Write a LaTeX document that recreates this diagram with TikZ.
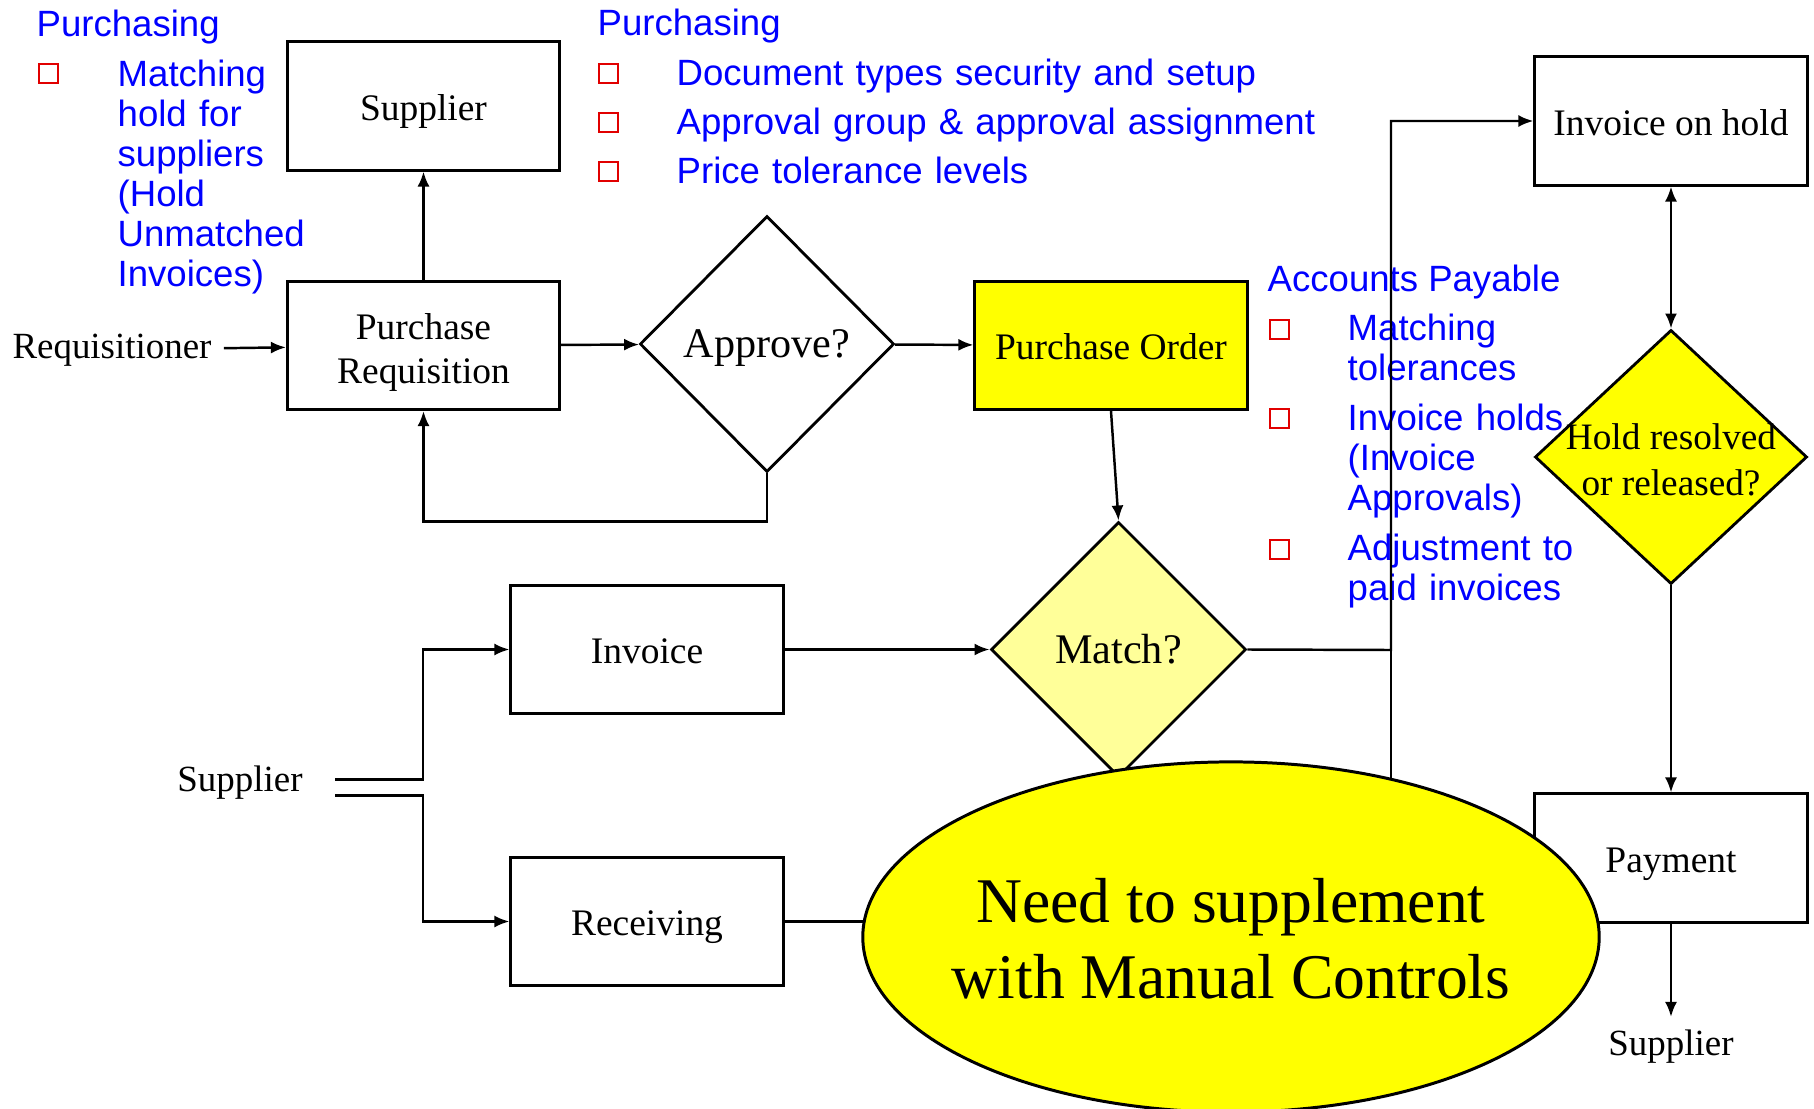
\documentclass[tikz,border=0pt]{standalone}
\usepackage{fontspec}
\setmainfont{Liberation Serif}
\newfontfamily\listfont{Liberation Sans}
\usepackage{tikz}
\usetikzlibrary{positioning,shapes.geometric,arrows.meta}

\definecolor{listblue}{RGB}{0,0,255}
\definecolor{bulletred}{RGB}{225,0,0}
\definecolor{brightyellow}{RGB}{255,255,0}
\definecolor{paleyellow}{RGB}{255,255,153}

\tikzset{
    box/.style={draw, line width=0.85pt, minimum width=2.72cm, minimum height=1.28cm, inner sep=0pt,
        text height=3mm, text depth=0.2mm, font=\fontsize{10.65}{12.5}\selectfont, align=center},
    decision/.style={draw, shape=diamond, line width=0.8pt, inner sep=0pt,
        text height=2.9mm, text depth=0.2mm, font=\fontsize{12}{14}\selectfont},
    plain/.style={font=\fontsize{10.5}{12.5}\selectfont},
    arrow/.style={-{Latex[length=1.5mm,width=1.2mm]}, line width=0.7pt},
    listhead/.style={anchor=base west, inner sep=0pt, text=listblue, font=\listfont\fontsize{10.4}{11.4}\selectfont},
    listitem/.style={listhead, text width=7cm, align=left},
    bullet/.style={draw=bulletred, line width=0.7pt, minimum size=1.9mm, inner sep=0pt, anchor=south west}
}

\begin{document}
\begin{tikzpicture}[x=0.01cm, y=-0.01cm]
    \useasboundingbox (0,0) rectangle (1814,1109);

    % Notes
    \node[listhead] (purchLeft) at (36,36) {Purchasing};
    \node[bullet] (bulletL1) at (38,84) {};
    \node[listitem] (itemL1) at (117,86) {Matching\\hold for\\suppliers\\(Hold\\Unmatched\\Invoices)};

    \node[listhead] (purchTop) at (597,35) {Purchasing};
    \node[bullet] (bulletT1) at (598,84) {};
    \node[listitem] (itemT1) at (676,85) {Document types security and setup};
    \node[bullet] (bulletT2) at (598,133) {};
    \node[listitem] (itemT2) at (676,134) {Approval group \& approval assignment};
    \node[bullet] (bulletT3) at (598,182) {};
    \node[listitem] (itemT3) at (676,183) {Price tolerance levels};

    \node[listhead] (payables) at (1267,291) {Accounts Payable};
    \node[bullet] (bulletP1) at (1269,340) {};
    \node[listitem] (itemP1) at (1347,340.5) {Matching\\tolerances};
    \node[bullet] (bulletP2) at (1269,429) {};
    \node[listitem] (itemP2) at (1347,430) {Invoice holds\\(Invoice\\Approvals)};
    \node[bullet] (bulletP3) at (1269,560) {};
    \node[listitem] (itemP3) at (1347,560.5) {Adjustment to\\paid invoices};

    % Nodes
    \node[box] (supplier) at (423.5,106) {Supplier};
    \node[box, text width=2.6cm, text depth=4.2mm] (preq) at (423.5,345.5) {Purchase\\Requisition};
    \node[plain, anchor=base] (requisitioner) at (112,358) {Requisitioner};
    \node[decision, minimum width=2.54cm, minimum height=2.56cm] (approve) at (767,344) {Approve?};
    \node[box, fill=brightyellow] (porder) at (1111,345.5) {Purchase Order};
    \node[decision, fill=paleyellow, minimum width=2.55cm, minimum height=2.55cm] (match) at (1118.5,649.5) {Match?};
    \node[box] (invoice) at (647,649.5) {Invoice};
    \node[box] (receiving) at (647,921.5) {Receiving};
    \node[plain, anchor=base] (supplierIn) at (240,791) {Supplier};
    \node[box] (onhold) at (1671,121) {Invoice on hold};
    \node[decision, fill=brightyellow, minimum width=2.72cm, minimum height=2.54cm,
        label={[align=center, yshift=-0.3mm, font=\fontsize{10.6}{13}\selectfont]center:Hold resolved\\or released?}] (hold) at (1671,457) {};
    \node[box] (payment) at (1671,858) {Payment};
    \node[plain, anchor=base] (supplierOut) at (1671,1055) {Supplier};
    \coordinate (joint) at (1391,650);

    % Arrows
    \draw[arrow] (requisitioner) -- (preq);
    \draw[arrow] (preq) -- (supplier);
    \draw[arrow] (preq) -- (approve);
    \draw[arrow] (approve) -- (porder);
    \draw[arrow] (approve.south) -- ++(0,48) -| (preq.south);
    \draw[arrow] (porder.south) -- (match.north);
    \draw[arrow] ([xshift=2mm,yshift=0.25mm]supplierIn.east) -- ++(88,0) |- (invoice.west);
    \draw[arrow] ([xshift=2mm,yshift=-1.35mm]supplierIn.east) -- ++(88,0) |- (receiving.west);
    \draw[arrow] (invoice) -- (match);
    \draw[line width=0.7pt] (receiving.east) -| (joint);
    \draw[arrow] (match.east) -- (joint) |- (onhold.west);
    \draw[{Latex[length=1.5mm,width=1.2mm]}-{Latex[length=1.5mm,width=1.2mm]}, line width=0.7pt] (onhold) -- (hold);
    \draw[arrow] (hold) -- (payment);
    \draw[arrow] (payment) -- (supplierOut);

    % Callout
    \node[draw, shape=ellipse, fill=brightyellow, line width=0.85pt, inner sep=0pt, minimum width=7.36cm, minimum height=3.5cm,
        label={[align=center, yshift=-0.2mm, font=\fontsize{18.1}{21.6}\selectfont]center:Need to supplement\\with Manual Controls}] (manual) at (1231,937) {};
\end{tikzpicture}
\end{document}
